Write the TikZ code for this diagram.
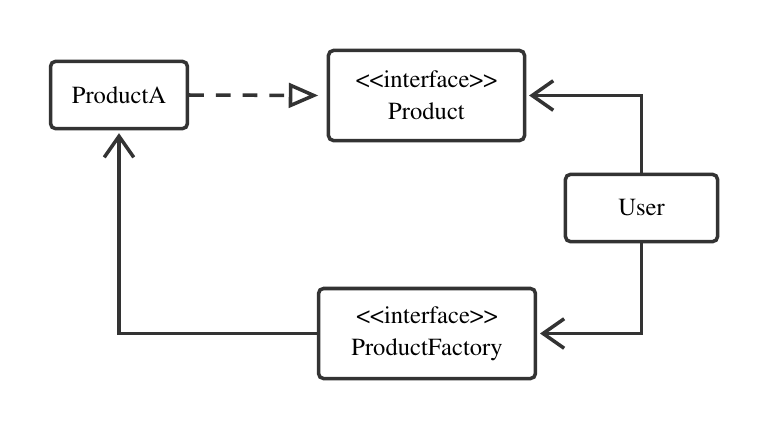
\documentclass[tikz,border=0pt]{standalone}
\usepackage[T1]{fontenc}
\usepackage{mathptmx}
\usepackage{tikz}
\usetikzlibrary{arrows.meta}
\definecolor{linegray}{RGB}{51,51,51}
\tikzset{>=stealth}
\tikzset{
  umlbox/.style={
    draw=linegray, line width=2.5pt, rounded corners=3.5pt,
    align=center, font=\fontsize{17.5}{22.5}\selectfont, inner sep=0pt
  }}
\tikzset{
  assoc/.style={
    draw=linegray, line width=2.5pt,
    -{Straight Barb[length=15pt,width=21pt,line width=2.5pt]},
    shorten >=2pt
  }}
\tikzset{
  realize/.style={
    draw=linegray, line width=2.5pt, dash pattern=on 10.5pt off 8.5pt,
    -{Triangle[open,length=21pt,width=17.5pt,line width=2.5pt]},
    shorten >=6pt
  }}
\newcommand{\stereo}{<\kern0pt<interface>\kern0pt>}

\begin{document}
\begin{tikzpicture}[x=0.025cm,y=-0.025cm]
    \useasboundingbox (0,0) rectangle (768,429);
    \node[umlbox,minimum width=3.42cm,minimum height=1.68cm] (ProductA) at (119,95) {ProductA};
    \node[umlbox,minimum width=4.9cm,minimum height=2.25cm] (Product) at (426.5,95.5) {\stereo\\Product};
    \node[umlbox,minimum width=3.8cm,minimum height=1.68cm] (User) at (641.5,208) {User};
    \node[umlbox,minimum width=5.42cm,minimum height=2.25cm] (ProductFactory) at (427,333.5) {\stereo\\ProductFactory};
    \draw[realize] (ProductA.east) -- (Product.west);
    \draw[assoc] (User.north) |- (Product.east);
    \draw[assoc] (User.south) |- (ProductFactory.east);
    \draw[assoc] (ProductFactory.west) -| (ProductA.south);
\end{tikzpicture}
\end{document}
